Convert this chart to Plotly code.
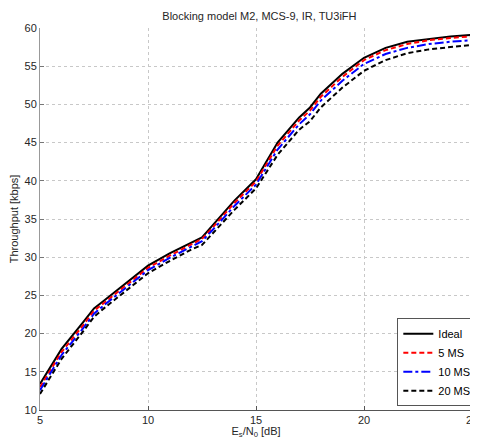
import plotly.graph_objects as go

snr_db = [5, 6, 7, 7.5, 8, 9, 10, 11, 12, 12.5, 13, 14, 15, 16, 17, 17.5, 18, 19, 20, 21, 22, 23, 24, 25]

ideal = [13.4, 18.0, 21.5, 23.3, 24.4, 26.7, 28.9, 30.5, 31.9, 32.6, 34.2, 37.4, 40.2, 45.0, 48.3, 49.6, 51.4, 54.0, 56.1, 57.4, 58.2, 58.6, 58.9, 59.1]
ms5   = [13.0, 17.6, 21.1, 23.0, 24.1, 26.4, 28.6, 30.2, 31.7, 32.4, 33.9, 37.1, 39.9, 44.6, 47.9, 49.2, 51.0, 53.6, 55.8, 57.1, 57.9, 58.4, 58.7, 58.9]
ms10  = [12.6, 17.2, 20.7, 22.6, 23.8, 26.1, 28.3, 29.9, 31.4, 32.1, 33.6, 36.7, 39.5, 44.1, 47.4, 48.7, 50.5, 53.1, 55.3, 56.6, 57.4, 57.9, 58.2, 58.4]
ms20  = [12.1, 16.7, 20.3, 22.2, 23.4, 25.7, 27.9, 29.5, 31.0, 31.6, 33.1, 36.2, 39.0, 43.4, 46.7, 47.8, 49.6, 52.2, 54.4, 55.8, 56.7, 57.2, 57.5, 57.8]

series = [
    ("Ideal", ideal, "#000000", "solid"),
    ("5 MS", ms5, "#ff0000", "5px,3px"),
    ("10 MS", ms10, "#0000ff", "dashdot"),
    ("20 MS", ms20, "#000000", "5px,3px"),
]

fig = go.Figure()
for name, ys, color, dash in series:
    fig.add_trace(go.Scatter(x=snr_db, y=ys, mode="lines", name=name,
                             line=dict(color=color, width=2, dash=dash)))

# page body adds an 8px offset, so the figure is sized 470x431
font = dict(family="Liberation Sans, Arial, sans-serif", size=11, color="#262626")
fig.update_layout(
    width=470, height=431,
    margin=dict(l=32, r=0, t=20, b=29),
    paper_bgcolor="white", plot_bgcolor="white",
    font=font,
    title=dict(text="Blocking model M2, MCS-9, IR, TU3iFH", x=0.535, xanchor="center",
               y=0.982, yanchor="middle", font=dict(size=11, color="#262626")),
    showlegend=True,
    legend=dict(x=1.01, xanchor="right", y=0.01, yanchor="bottom",
                bgcolor="white", bordercolor="#555555", borderwidth=1,
                itemwidth=30, tracegroupgap=0, font=dict(size=11, color="#000000")),
)
fig.update_xaxes(range=[5, 25], tickvals=[5, 10, 15, 20, 25], ticks="inside", ticklen=4,
                 tickcolor="#555555", showline=True, linecolor="#555555", linewidth=1,
                 showgrid=True, gridcolor="#c8c8c8", griddash="dot", gridwidth=1,
                 zeroline=False, ticklabeloverflow="allow",
                 title=dict(text="E<sub>s</sub>/N<sub>0</sub> [dB]", standoff=0, font=dict(size=11)))
fig.update_yaxes(range=[10, 60], tickvals=list(range(10, 61, 5)), ticks="inside", ticklen=4,
                 tickcolor="#777777", showline=True, linecolor="#999999", linewidth=1,
                 showgrid=True, gridcolor="#c8c8c8", griddash="dot", gridwidth=1,
                 zeroline=False,
                 title=dict(text="Throughput [kbps]", standoff=6, font=dict(size=11)))

fig.write_html("out.html")
